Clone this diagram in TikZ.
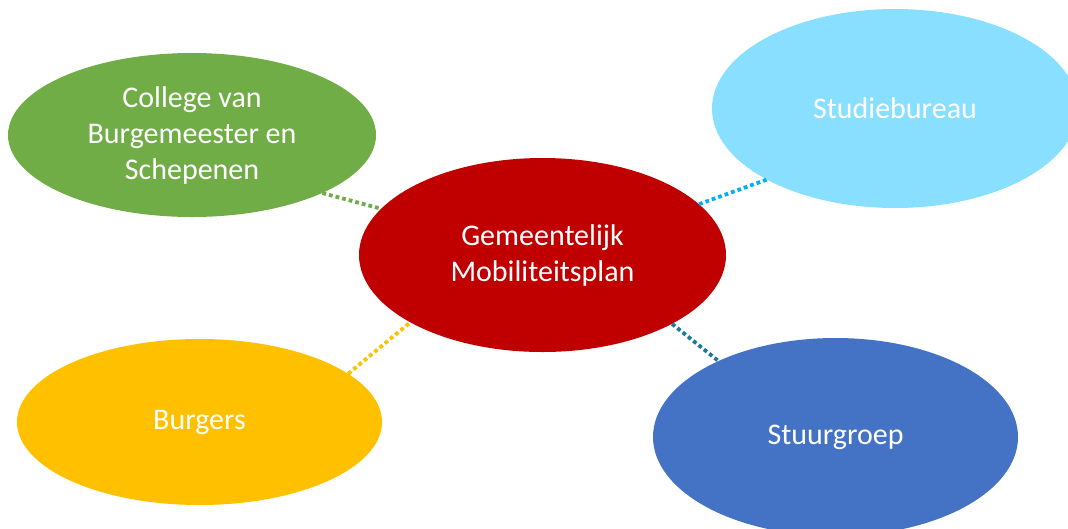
\documentclass[tikz,border=0pt]{standalone}
\usepackage{fontspec}
\setmainfont{Carlito}
\usetikzlibrary{shapes.geometric}
\definecolor{cgreen}{HTML}{70AD47}
\definecolor{clight}{HTML}{89DFFF}
\definecolor{cred}{HTML}{C00000}
\definecolor{cyellow}{HTML}{FFC000}
\definecolor{cblue}{HTML}{4472C4}
\definecolor{lgreen}{HTML}{70AD47}
\definecolor{llight}{HTML}{00B0F0}
\definecolor{lyellow}{HTML}{FFC000}
\definecolor{lteal}{HTML}{1B7A99}
\tikzset{
  bubble/.style={ellipse, inner sep=0pt, text=white, align=center,
    font=\fontsize{30}{36}\selectfont},
  link/.style={line width=3.8pt, dash pattern=on 3.8pt off 3pt}
}
\begin{document}
\begin{tikzpicture}[x=1pt,y=-1pt]
\useasboundingbox (0,0) rectangle (1068,528);
\clip (0,0) rectangle (1068,528);
\node[bubble, fill=cgreen, minimum width=368pt, minimum height=164pt] (col) at (192,135) {College van\\Burgemeester en\\Schepenen};
\node[bubble, fill=clight, minimum width=366pt, minimum height=199pt] (stu) at (895,108.5) {Studiebureau};
\node[bubble, fill=cred, minimum width=367pt, minimum height=194pt] (gmp) at (542.5,255) {Gemeentelijk\\Mobiliteitsplan};
\node[bubble, fill=cyellow, minimum width=365pt, minimum height=166pt] (bur) at (199.5,422) {Burgers};
\node[bubble, fill=cblue, minimum width=365pt, minimum height=198pt] (stg) at (835.5,437) {Stuurgroep};
\draw[link, draw=lgreen] (col.-24.6) -- (gmp.164);
\draw[link, draw=llight] (gmp.18) -- (stu.209.8);
\draw[link, draw=lyellow] (bur.18.4) -- (gmp.207.3);
\draw[link, draw=lteal] (gmp.-28) -- (stg.147.6);
\end{tikzpicture}
\end{document}
